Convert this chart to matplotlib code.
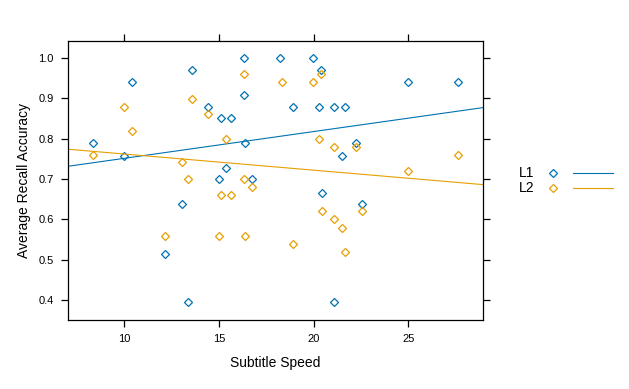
import matplotlib
matplotlib.use("Agg")
import matplotlib.pyplot as plt
from matplotlib.lines import Line2D
import numpy as np

# subtitle speed for each item (shared by both lists)
speed = [8.33, 10.39, 9.98, 13.56, 14.42, 15.09, 15.62, 16.31, 16.31, 16.38,
         15.37, 14.99, 16.73, 18.23, 19.95, 20.37, 24.97, 27.63, 18.9, 20.27,
         21.06, 21.66, 22.24, 21.48, 20.43, 22.54, 21.06, 13.05, 12.13, 13.35]

l1_acc = [0.788, 0.939, 0.758, 0.969, 0.879, 0.850, 0.850, 1.0, 0.909, 0.788,
          0.728, 0.700, 0.700, 1.0, 1.0, 0.969, 0.939, 0.939, 0.879, 0.879,
          0.879, 0.879, 0.788, 0.758, 0.666, 0.637, 0.396, 0.637, 0.515, 0.396]

l2_speed = [8.33, 9.97, 10.39, 13.56, 14.42, 15.36, 16.31, 13.03, 13.35, 16.31,
            18.31, 19.95, 20.37, 20.27, 21.06, 22.24, 27.63, 24.97, 16.73, 15.09,
            15.62, 12.13, 14.99, 16.36, 20.43, 22.54, 21.06, 21.48, 18.9, 21.66]
l2_acc = [0.760, 0.879, 0.820, 0.899, 0.860, 0.800, 0.959, 0.741, 0.701, 0.701,
          0.939, 0.939, 0.959, 0.800, 0.780, 0.780, 0.760, 0.721, 0.681, 0.661,
          0.661, 0.560, 0.560, 0.560, 0.622, 0.622, 0.602, 0.580, 0.540, 0.520]

groups = ["L1", "L2"]
colors = ["#0072B2", "#E69F00"]
xticks = [10, 15, 20, 25]
yticks = [0.4, 0.5, 0.6, 0.7, 0.8, 0.9, 1.0]

plt.rcParams["font.family"] = ["Liberation Sans", "DejaVu Sans"]

W, H = 629, 389
fig = plt.figure(figsize=(W / 100, H / 100), dpi=100)
ax = fig.add_axes([67.7 / W, 1 - 320 / H, (483.3 - 67.7) / W, (320 - 41.3) / H])

xlim = (7.01, 28.97)
series = [(speed, l1_acc), (l2_speed, l2_acc)]
for (xs, ys), c in zip(series, colors):
    ax.plot(xs, ys, ls="none", marker="D", ms=3.6, mfc="none", mec=c, mew=0.9)
    slope, icpt = np.polyfit(xs, ys, 1)
    xx = np.array(xlim)
    ax.plot(xx, icpt + slope * xx, color=c, lw=0.8)

ax.set_xlim(*xlim)
ax.set_ylim(0.351, 1.041)
ax.set_xticks(xticks)
ax.set_yticks(yticks)
ax.set_yticklabels([f"{v:.1f}" for v in yticks])
ax.tick_params(direction="out", length=5, width=0.9, labelsize=8,
               top=True, right=True, labeltop=False, labelright=False, pad=5)
for s in ax.spines.values():
    s.set_linewidth(0.9)

ax.set_xlabel("Subtitle Speed", fontsize=10, labelpad=8.5)
ax.set_ylabel("Average Recall Accuracy", fontsize=10, labelpad=5)

# key on the right
for i, (g, c) in enumerate(zip(groups, colors)):
    yp = 1 - (173 + i * 15) / H
    fig.text(519 / W, yp, g, fontsize=10, va="center", ha="left")
    fig.add_artist(Line2D([553 / W], [yp], ls="none", marker="D", ms=3.6,
                          mfc="none", mec=c, mew=0.9))
    fig.add_artist(Line2D([573 / W, 613 / W], [yp, yp], color=c, lw=0.8))

fig.savefig("out.png", dpi=100)
